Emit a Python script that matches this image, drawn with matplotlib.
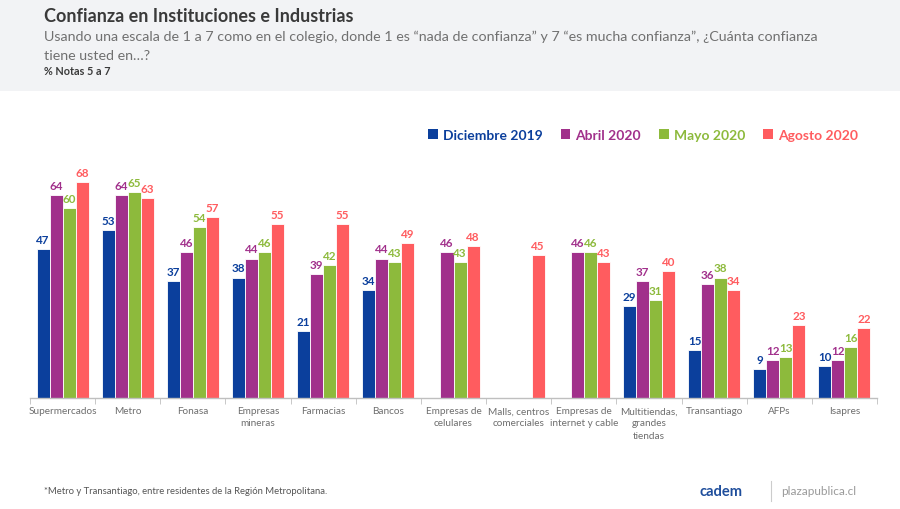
import numpy as np
import matplotlib
matplotlib.use("Agg")
import matplotlib.pyplot as plt
from matplotlib.patches import Patch, Rectangle

plt.rcParams['font.family'] = ['Lato', 'DejaVu Sans']

categories = ["Supermercados", "Metro", "Fonasa", "Empresas\nmineras", "Farmacias",
              "Bancos", "Empresas de\ncelulares", "Malls, centros\ncomerciales",
              "Empresas de\ninternet y cable", "Multitiendas,\ngrandes\ntiendas",
              "Transantiago", "AFPs", "Isapres"]
series_names = ["Diciembre 2019", "Abril 2020", "Mayo 2020", "Agosto 2020"]
dic_2019 = [47, 53, 37, 38, 21, 34, np.nan, np.nan, np.nan, 29, 15, 9, 10]
abr_2020 = [64, 64, 46, 44, 39, 44, 46, np.nan, 46, 37, 36, 12, 12]
may_2020 = [60, 65, 54, 46, 42, 43, 43, np.nan, 46, 31, 38, 13, 16]
ago_2020 = [68, 63, 57, 55, 55, 49, 48, 45, 43, 40, 34, 23, 22]
colors = ["#0B3F9C", "#A1308B", "#8DBA3C", "#FF5C5F"]

fig = plt.figure(figsize=(9, 5.1), dpi=100)
fig.patch.set_facecolor("white")

# header band
fig.add_artist(Rectangle((0, 1 - 92 / 510), 1, 92 / 510, transform=fig.transFigure,
                         facecolor="#F2F3F5", edgecolor="none", zorder=0))
fig.text(44 / 900, 1 - 17 / 510, "Confianza en Instituciones e Industrias",
         fontsize=13, fontweight="bold", color="#3A3A3A", va="center", ha="left")
fig.text(44 / 900, 1 - 37 / 510,
         "Usando una escala de 1 a 7 como en el colegio, donde 1 es “nada de confianza” y 7 “es mucha confianza”, ¿Cuánta confianza",
         fontsize=10.3, color="#707070", va="center", ha="left")
fig.text(44 / 900, 1 - 56 / 510, "tiene usted en…?", fontsize=10.3, color="#707070",
         va="center", ha="left")
fig.text(44 / 900, 1 - 72 / 510, "% Notas 5 a 7", fontsize=7.8, fontweight="bold",
         color="#3A3A3A", va="center", ha="left")

ax = fig.add_axes([30 / 900, 111 / 510, 847 / 900, 279 / 510])
ax.set_facecolor("white")
x = np.arange(len(categories))
w = 0.2
data = [dic_2019, abr_2020, may_2020, ago_2020]
for i, (vals, c) in enumerate(zip(data, colors)):
    xs = x + (i - 1.5) * w
    ax.bar(xs, vals, width=w, color=c, edgecolor="white", linewidth=0.6, zorder=2)
    for xi, v in zip(xs, vals):
        if not np.isnan(v):
            ax.text(xi, v + 1.3, f"{int(v)}", ha="center", va="bottom", fontsize=8.4,
                    fontweight="bold", color=c)

ax.set_xlim(-0.5, len(categories) - 0.5)
ax.set_ylim(0, 88)
ax.set_yticks([])
for s in ["top", "right", "left"]:
    ax.spines[s].set_visible(False)
ax.spines["bottom"].set_color("#BFBFBF")
ax.spines["bottom"].set_linewidth(1)
ax.set_xticks(x)
ax.set_xticklabels(categories, fontsize=7.2, color="#6E6E6E", linespacing=1.45)
ax.tick_params(axis="x", which="major", length=0, pad=6)
ax.set_xticks(np.arange(-0.5, len(categories), 1), minor=True)
ax.tick_params(axis="x", which="minor", length=4, color="#BFBFBF", direction="out")

handles = [Patch(facecolor=c, edgecolor="none") for c in colors]
leg = fig.legend(handles, series_names, loc="center", bbox_to_anchor=(643 / 900, 1 - 136 / 510),
                 ncol=4, frameon=False, fontsize=10, handlelength=0.7, handleheight=0.7,
                 handletextpad=0.35, columnspacing=1.3)
for t, c in zip(leg.get_texts(), colors):
    t.set_color(c)
    t.set_fontweight("bold")

# footer
fig.text(44 / 900, 1 - 492 / 510,
         "*Metro y Transantiago, entre residentes de la Región Metropolitana.",
         fontsize=6.8, color="#555555", va="center", ha="left")
fig.text(700 / 900, 1 - 492 / 510, "cadem", fontsize=10.5, fontweight="bold",
         color="#1F4E9C", va="center", ha="left")
fig.add_artist(plt.Line2D([771 / 900, 771 / 900], [1 - 502 / 510, 1 - 482 / 510],
                          transform=fig.transFigure, color="#CCCCCC", linewidth=0.8))
fig.text(781 / 900, 1 - 492 / 510, "plazapublica.cl", fontsize=8.5, color="#9A9A9A",
         va="center", ha="left")

fig.savefig("out.png", dpi=100, facecolor="white")
